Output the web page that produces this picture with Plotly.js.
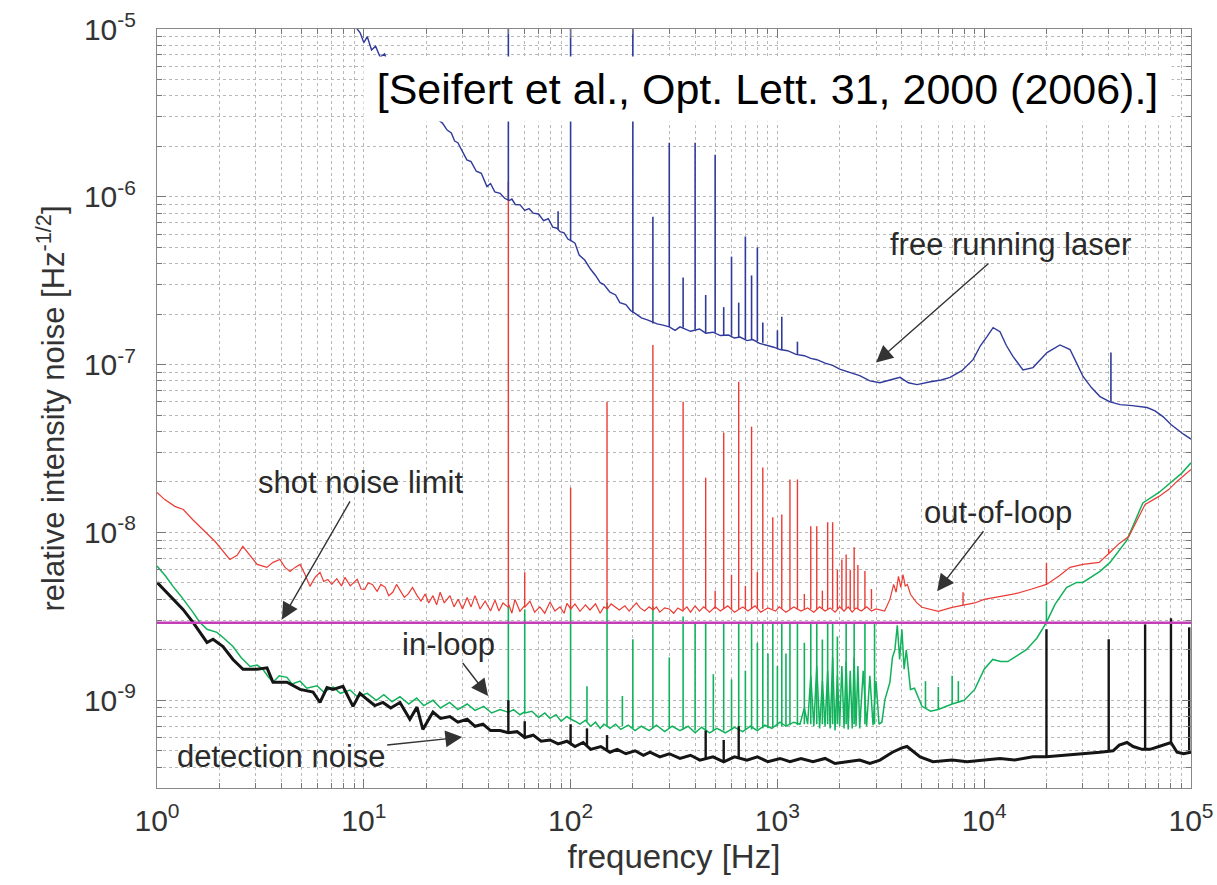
<!DOCTYPE html>
<html>
<head>
<meta charset="utf-8">
<script src="https://cdn.plot.ly/plotly-3.0.1.min.js"></script>
<style>html,body{margin:0;padding:0;background:#fff}#chart{width:1217px;height:885px}</style>
</head>
<body>
<div id="chart"></div>
<script>
// ---- data: [frequency Hz, relative intensity noise 1/sqrt(Hz)] ----
const freeRunning = [
[8.5,1.15e-5],[9.3,9.9e-6],[9.6,9.5e-6],[10.0,8.3e-6],[10.4,9.0e-6],[10.9,7.5e-6],[11.4,7.9e-6],[12.0,6.8e-6],[12.6,7.1e-6],[13.3,5.9e-6],[14.2,5.7e-6],[16.0,4.7e-6],[18.7,3.78e-6],[22.0,3.0e-6],[24.0,2.75e-6],[25.3,2.5e-6],[26.5,2.4e-6],[27.5,2.15e-6],[28.5,2.1e-6],[30.0,1.85e-6],[31.5,1.66e-6],[33.0,1.62e-6],[35.0,1.42e-6],[37.0,1.38e-6],[39.4,1.15e-6],[41.0,1.2e-6],[43.0,1.07e-6],[45.6,1.05e-6],[48.0,9.8e-7],[49.7,9.6e-7],[50.5,9.5e-7],[52.0,9.7e-7],[54.0,9.0e-7],[57.0,8.95e-7],[60.0,8.3e-7],[63.0,8.5e-7],[65.8,8.0e-7],[70.0,7.9e-7],[74.0,7.2e-7],[78.0,7.4e-7],[82.0,6.6e-7],[86.0,6.5e-7],[89.0,6.2e-7],[93.0,6.1e-7],[97.0,5.6e-7],[99.7,5.5e-7],[100.3,5.5e-7],[105,5.3e-7],[110,4.5e-7],[117,4.2e-7],[125,3.7e-7],[132,3.4e-7],[139,3.08e-7],[145,3.0e-7],[155,2.7e-7],[165,2.6e-7],[173,2.34e-7],[185,2.28e-7],[195,2.1e-7],[205,2.02e-7],[220,1.9e-7],[235,1.85e-7],[262,1.75e-7],[280,1.72e-7],[300,1.68e-7],[320,1.6e-7],[338,1.68e-7],[380,1.58e-7],[420,1.63e-7],[450,1.54e-7],[488,1.56e-7],[530,1.49e-7],[580,1.5e-7],[620,1.44e-7],[660,1.46e-7],[713,1.39e-7],[760,1.41e-7],[820,1.34e-7],[900,1.3e-7],[960,1.27e-7],[1030,1.23e-7],[1120,1.21e-7],[1230,1.15e-7],[1350,1.13e-7],[1450,1.09e-7],[1553,1.07e-7],[1700,1.02e-7],[1850,9.9e-8],[2000,9.4e-8],[2243,8.96e-8],[2500,8.6e-8],[2800,8.0e-8],[3133,7.8e-8],[3500,8.1e-8],[3916,8.4e-8],[4300,7.8e-8],[4733,7.6e-8],[5500,7.9e-8],[6200,8.1e-8],[6838,8.4e-8],[7800,9.2e-8],[8835,1.07e-7],[9600,1.3e-7],[10320,1.47e-7],[11040,1.66e-7],[11920,1.57e-7],[12800,1.3e-7],[13770,1.12e-7],[15400,9.3e-8],[17220,9.6e-8],[18500,1.05e-7],[20130,1.18e-7],[23250,1.31e-7],[26000,1.23e-7],[28000,1.02e-7],[30050,8.5e-8],[33000,7.3e-8],[36300,6.45e-8],[40600,6.0e-8],[45400,5.78e-8],[52000,5.7e-8],[61300,5.55e-8],[67000,5.3e-8],[73200,4.9e-8],[80000,4.4e-8],[85600,4.1e-8],[92000,3.85e-8],[100000,3.6e-8]
];
// spikes: [frequency, foot, peak]
const freeRunningSpikes = [[50,9.6e-7,1.3e-5],[87,6.4e-7,8.2e-7],[100,5.5e-7,1.3e-5],[200,2.04e-7,1.3e-5],[250,1.76e-7,7.6e-7],[300,1.68e-7,2.1e-6],[350,1.66e-7,3.3e-7],[400,1.62e-7,2.1e-6],[450,1.55e-7,2.6e-7],[500,1.55e-7,1.78e-6],[550,1.5e-7,2.2e-7],[600,1.49e-7,4.4e-7],[650,1.46e-7,2.34e-7],[700,1.42e-7,5.8e-7],[750,1.41e-7,3.4e-7],[800,1.38e-7,5.0e-7],[850,1.35e-7,1.78e-7],[1000,1.25e-7,1.6e-7],[1050,1.22e-7,1.93e-7],[1250,1.15e-7,1.37e-7],[41000,6.0e-8,1.18e-7]];

const outOfLoop = [
[1,1.73e-8],[1.09,1.57e-8],[1.22,1.43e-8],[1.34,1.37e-8],[1.49,1.19e-8],[1.67,1.04e-8],[1.91,8.83e-9],[2.25,6.9e-9],[2.44,7.3e-9],[2.6,8.26e-9],[2.82,7.3e-9],[3.05,6.45e-9],[3.4,6.19e-9],[3.64,6.63e-9],[3.93,6.9e-9],[4.16,6.19e-9],[4.4,5.86e-9],[4.65,6.19e-9],[4.92,6.45e-9],[5.2,5.62e-9],[5.49,4.77e-9],[5.81,5.4e-9],[6.14,5.78e-9],[6.4,5.1e-9],[6.7,5.25e-9],[7.0,4.9e-9],[7.4,5.3e-9],[7.8,4.8e-9],[8.1,5.4e-9],[8.6,4.8e-9],[9.3,5.25e-9],[9.7,4.6e-9],[10.1,4.58e-9],[10.5,5.0e-9],[11.0,4.9e-9],[11.6,4.46e-9],[12.1,4.9e-9],[12.7,4.71e-9],[13.2,4.2e-9],[13.8,4.4e-9],[14.4,4.9e-9],[15.0,4.5e-9],[15.7,4.1e-9],[16.4,4.3e-9],[17.2,4.7e-9],[18.1,4.2e-9],[18.9,3.9e-9],[19.8,4.3e-9],[20.6,3.8e-9],[21.6,4.2e-9],[22.5,3.7e-9],[23.4,4.4e-9],[24.5,3.8e-9],[26.1,4.2e-9],[27.3,3.6e-9],[28.6,4.0e-9],[30.0,3.5e-9],[31.6,4.1e-9],[33.0,3.6e-9],[34.5,4.2e-9],[36.5,3.5e-9],[38.6,3.9e-9],[41.0,3.4e-9],[43.1,3.95e-9],[45.0,3.4e-9],[47.1,3.8e-9],[49.7,3.6e-9],[50.3,3.7e-9],[52.0,3.3e-9],[53.8,3.99e-9],[56.9,3.39e-9],[59.8,3.65e-9],[60.2,3.6e-9],[63.6,3.9e-9],[67,3.35e-9],[71,3.6e-9],[75,3.3e-9],[79.5,3.85e-9],[84,3.4e-9],[88.9,3.6e-9],[93,3.3e-9],[96,3.78e-9],[99.7,3.5e-9],[100.3,3.5e-9],[105,3.75e-9],[111,3.39e-9],[118,3.7e-9],[124,3.45e-9],[132,3.75e-9],[139,3.3e-9],[145,3.6e-9],[149.5,3.5e-9],[150.5,3.5e-9],[157,3.75e-9],[164,3.6e-9],[172,3.45e-9],[183,3.65e-9],[192,3.4e-9],[200,3.6e-9],[208,3.8e-9],[217,3.55e-9],[228,3.4e-9],[240,3.6e-9],[249,3.45e-9],[251,3.45e-9],[260,3.6e-9],[270,3.35e-9],[285,3.55e-9],[300,3.5e-9],[315,3.3e-9],[330,3.55e-9],[349,3.4e-9],[351,3.45e-9],[365,3.6e-9],[380,3.35e-9],[400,3.65e-9],[420,3.4e-9],[440,3.6e-9],[470,3.35e-9],[500,3.6e-9],[530,3.4e-9],[575,3.65e-9],[620,3.35e-9],[680,3.6e-9],[720,3.4e-9],[780,3.65e-9],[830,3.35e-9],[900,3.55e-9],[980,3.4e-9],[1020,3.6e-9],[1100,3.35e-9],[1200,3.6e-9],[1300,3.4e-9],[1400,3.55e-9],[1500,3.35e-9],[1600,3.6e-9],[1700,3.4e-9],[1800,3.55e-9],[1900,3.35e-9],[2000,3.6e-9],[2100,3.4e-9],[2200,3.6e-9],[2300,3.35e-9],[2400,3.55e-9],[2550,3.4e-9],[2700,3.6e-9],[2850,3.4e-9],[3000,3.5e-9],[3300,3.4e-9],[3500,3.99e-9],[3650,4.9e-9],[3750,4.4e-9],[3850,5.47e-9],[3950,4.7e-9],[4050,5.6e-9],[4150,4.8e-9],[4250,4.9e-9],[4400,4.28e-9],[4700,3.83e-9],[5000,3.58e-9],[5500,3.48e-9],[6000,3.39e-9],[7000,3.58e-9],[8000,3.7e-9],[9000,3.8e-9],[10000,3.99e-9],[12000,4.16e-9],[14000,4.3e-9],[17000,4.6e-9],[20000,4.9e-9],[23000,5.5e-9],[26000,6.19e-9],[30000,6.45e-9],[36000,6.63e-9],[41000,7.7e-9],[45000,8.6e-9],[50000,9.46e-9],[55000,1.2e-8],[60000,1.47e-8],[70000,1.64e-8],[78000,1.8e-8],[85000,2.0e-8],[100000,2.37e-8]
];
const outOfLoopSpikes = [[50,3.7e-9,1.23e-6],[60,3.6e-9,5.8e-9],[100,3.5e-9,1.85e-8],[150,3.5e-9,6.0e-8],[250,3.45e-9,1.31e-7],[350,3.45e-9,6.0e-8],[450,3.5e-9,2.12e-8],[500,3.5e-9,4.5e-9],[550,3.5e-9,3.94e-8],[600,3.5e-9,5.6e-9],[650,3.5e-9,7.9e-8],[700,3.5e-9,4.8e-9],[750,3.5e-9,4.27e-8],[800,3.5e-9,5.8e-9],[850,3.5e-9,2.44e-8],[950,3.5e-9,1.23e-8],[1050,3.5e-9,1.28e-8],[1150,3.5e-9,2.07e-8],[1250,3.5e-9,2.07e-8],[1350,3.5e-9,4.3e-9],[1450,3.5e-9,1.09e-8],[1550,3.5e-9,1.09e-8],[1650,3.5e-9,4.5e-9],[1750,3.5e-9,1.15e-8],[1850,3.5e-9,1.15e-8],[1950,3.5e-9,6.0e-9],[2050,3.5e-9,6.9e-9],[2150,3.5e-9,7.4e-9],[2250,3.5e-9,6.0e-9],[2350,3.5e-9,8.15e-9],[2450,3.5e-9,6.4e-9],[2650,3.5e-9,5.9e-9],[2850,3.5e-9,4.6e-9],[7900,3.7e-9,4.4e-9],[20000,4.9e-9,6.6e-9],[40000,7.5e-9,8.0e-9]];

const inLoop = [
[1,6.3e-9],[1.1,5.5e-9],[1.195,4.77e-9],[1.3,4.2e-9],[1.494,3.34e-9],[1.6,2.95e-9],[1.745,2.65e-9],[1.85,2.6e-9],[1.95,2.54e-9],[2.1,2.35e-9],[2.33,2.09e-9],[2.55,1.8e-9],[2.82,1.59e-9],[3.05,1.62e-9],[3.25,1.53e-9],[3.45,1.38e-9],[3.64,1.28e-9],[3.9,1.4e-9],[4.25,1.37e-9],[4.5,1.25e-9],[4.92,1.3e-9],[5.3,1.18e-9],[5.94,1.22e-9],[6.4,1.12e-9],[7.1,1.2e-9],[7.7,1.1e-9],[8.58,1.15e-9],[9.3,1.05e-9],[10.4,1.1e-9],[11.5,1.0e-9],[12.5,1.08e-9],[13.7,0.98e-9],[14.96,1.05e-9],[16.5,0.95e-9],[18,1.03e-9],[19.5,0.93e-9],[21.6,1.0e-9],[23.5,0.9e-9],[26,0.97e-9],[28.5,0.88e-9],[31.6,0.95e-9],[34.5,0.87e-9],[38,0.92e-9],[41.5,0.84e-9],[45.6,0.88e-9],[49.7,0.85e-9],[50.3,0.85e-9],[53,0.88e-9],[56.9,0.82e-9],[59.8,0.85e-9],[60.2,0.84e-9],[65,0.86e-9],[70,0.79e-9],[75,0.84e-9],[79.5,0.78e-9],[85,0.82e-9],[90,0.75e-9],[96,0.8e-9],[99.7,0.77e-9],[100.3,0.77e-9],[105,0.75e-9],[111,0.72e-9],[118,0.76e-9],[125,0.7e-9],[132,0.74e-9],[139,0.68e-9],[145,0.72e-9],[155,0.68e-9],[165,0.72e-9],[175,0.67e-9],[190,0.71e-9],[205,0.66e-9],[220,0.7e-9],[240,0.66e-9],[260,0.71e-9],[285,0.65e-9],[310,0.7e-9],[338,0.66e-9],[370,0.7e-9],[400,0.64e-9],[430,0.69e-9],[470,0.64e-9],[510,0.68e-9],[560,0.64e-9],[620,0.69e-9],[680,0.65e-9],[740,0.7e-9],[800,0.66e-9],[870,0.71e-9],[940,0.68e-9],[1030,0.74e-9],[1100,0.7e-9],[1200,0.74e-9],[1286,0.72e-9],[1350,0.9e-9],[1400,0.72e-9],[1450,1.4e-9],[1500,0.7e-9],[1550,1.6e-9],[1600,0.68e-9],[1650,1.3e-9],[1700,0.7e-9],[1750,1.5e-9],[1800,0.68e-9],[1850,1.8e-9],[1900,0.66e-9],[1950,1.4e-9],[2000,0.7e-9],[2050,1.6e-9],[2100,0.68e-9],[2150,1.7e-9],[2200,0.67e-9],[2250,1.5e-9],[2300,0.68e-9],[2350,1.8e-9],[2400,0.7e-9],[2450,1.6e-9],[2500,0.68e-9],[2600,1.5e-9],[2700,0.7e-9],[2800,1.4e-9],[2900,0.71e-9],[3000,1.3e-9],[3100,0.72e-9],[3200,0.74e-9],[3311,1.01e-9],[3500,1.28e-9],[3600,1.8e-9],[3700,2.0e-9],[3800,2.8e-9],[3900,1.75e-9],[4000,2.65e-9],[4100,1.53e-9],[4200,2.0e-9],[4400,1.16e-9],[4600,1.18e-9],[5000,0.92e-9],[5500,0.86e-9],[6000,0.88e-9],[7000,0.95e-9],[8000,1.0e-9],[9000,1.16e-9],[10000,1.53e-9],[11000,1.75e-9],[12000,1.7e-9],[13000,1.7e-9],[14000,1.8e-9],[16000,2.0e-9],[18000,2.35e-9],[20000,2.91e-9],[22000,3.73e-9],[25000,4.7e-9],[28000,5.04e-9],[30000,5.04e-9],[36300,5.86e-9],[40600,6.63e-9],[49000,9.0e-9],[58500,1.5e-8],[70000,1.73e-8],[80000,2.0e-8],[90000,2.25e-8],[100000,2.6e-8]
];
const inLoopSpikes = [[50,0.85e-9,3.63e-9],[60,0.84e-9,3.48e-9],[100,0.77e-9,3.63e-9],[120,0.75e-9,1.21e-9],[150,0.7e-9,3.83e-9],[178,0.7e-9,1.06e-9],[200,0.68e-9,2.31e-9],[250,0.68e-9,3.63e-9],[300,0.68e-9,1.8e-9],[350,0.67e-9,3.16e-9],[400,0.66e-9,2.91e-9],[450,0.66e-9,2.91e-9],[490,0.66e-9,1.43e-9],[550,0.66e-9,2.91e-9],[600,0.66e-9,1.33e-9],[650,0.66e-9,2.91e-9],[700,0.67e-9,1.5e-9],[750,0.67e-9,2.91e-9],[800,0.67e-9,2.2e-9],[850,0.68e-9,2.91e-9],[900,0.68e-9,1.9e-9],[950,0.69e-9,2.91e-9],[1000,0.7e-9,1.6e-9],[1050,0.7e-9,2.91e-9],[1100,0.7e-9,1.9e-9],[1150,0.71e-9,2.91e-9],[1250,0.71e-9,2.91e-9],[1350,0.72e-9,2.2e-9],[1450,0.72e-9,2.91e-9],[1550,0.72e-9,2.91e-9],[1650,0.72e-9,2.3e-9],[1750,0.72e-9,2.91e-9],[1850,0.72e-9,2.91e-9],[1950,0.72e-9,2.4e-9],[2150,0.72e-9,2.91e-9],[2350,0.72e-9,2.91e-9],[2650,0.72e-9,2.91e-9],[2950,0.72e-9,2.91e-9],[5200,0.9e-9,1.3e-9],[6000,0.88e-9,1.2e-9],[7000,0.95e-9,1.4e-9],[7500,0.97e-9,1.3e-9],[20000,2.91e-9,3.9e-9]];

const detectionNoise = [
[1,5.04e-9],[1.156,4.16e-9],[1.336,3.48e-9],[1.494,2.91e-9],[1.614,2.54e-9],[1.745,2.21e-9],[1.866,2.31e-9],[2.085,2.09e-9],[2.33,1.75e-9],[2.606,1.53e-9],[3.045,1.53e-9],[3.404,1.56e-9],[3.638,1.28e-9],[4.25,1.28e-9],[4.92,1.16e-9],[5.68,1.12e-9],[6.14,0.97e-9],[6.64,1.19e-9],[7.1,1.16e-9],[7.93,1.21e-9],[8.87,0.92e-9],[9.58,1.1e-9],[10.4,1.01e-9],[11.3,0.93e-9],[12.38,0.97e-9],[13.5,0.9e-9],[14.96,0.97e-9],[16.7,0.77e-9],[18.08,0.91e-9],[19.3,0.67e-9],[21.6,0.85e-9],[23.5,0.78e-9],[26.1,0.8e-9],[28.5,0.74e-9],[31.6,0.77e-9],[34.5,0.7e-9],[37.7,0.72e-9],[41,0.66e-9],[45.6,0.66e-9],[50,0.64e-9],[55.1,0.65e-9],[60,0.6e-9],[66,0.62e-9],[72,0.57e-9],[79.5,0.58e-9],[87,0.55e-9],[96,0.57e-9],[105,0.53e-9],[115,0.56e-9],[125,0.51e-9],[140,0.53e-9],[155,0.49e-9],[168,0.51e-9],[185,0.48e-9],[205,0.5e-9],[225,0.47e-9],[242,0.49e-9],[270,0.46e-9],[300,0.48e-9],[338,0.45e-9],[380,0.47e-9],[422,0.44e-9],[488,0.46e-9],[550,0.43e-9],[620,0.46e-9],[713,0.44e-9],[800,0.46e-9],[900,0.43e-9],[1030,0.45e-9],[1150,0.43e-9],[1300,0.45e-9],[1486,0.43e-9],[1700,0.45e-9],[1900,0.42e-9],[2172,0.43e-9],[2500,0.44e-9],[2800,0.42e-9],[3133,0.44e-9],[3600,0.49e-9],[4000,0.52e-9],[4235,0.53e-9],[4500,0.5e-9],[4898,0.46e-9],[5650,0.43e-9],[7000,0.44e-9],[8260,0.43e-9],[10000,0.44e-9],[11920,0.45e-9],[14000,0.44e-9],[17220,0.46e-9],[20000,0.46e-9],[25140,0.47e-9],[30000,0.48e-9],[36300,0.49e-9],[42000,0.5e-9],[45000,0.54e-9],[49050,0.56e-9],[52500,0.53e-9],[58000,0.51e-9],[63400,0.51e-9],[70000,0.53e-9],[76600,0.55e-9],[80000,0.56e-9],[85600,0.49e-9],[92000,0.48e-9],[100000,0.49e-9]
];
const detectionNoiseSpikes = [[20000,0.46e-9,2.65e-9],[40000,0.5e-9,2.31e-9],[60000,0.51e-9,2.83e-9],[80000,0.56e-9,3.08e-9],[98000,0.49e-9,2.72e-9],[50,0.64e-9,1.0e-9],[60,0.6e-9,0.75e-9],[100,0.55e-9,0.72e-9],[120,0.54e-9,0.68e-9],[150,0.5e-9,0.62e-9],[450,0.45e-9,0.66e-9],[550,0.43e-9,0.58e-9],[650,0.45e-9,0.7e-9]];

const shotNoiseFreq = [1, 100000];
const shotNoiseLevel = [2.9e-9, 2.9e-9];

const xTickVals = [1, 10, 100, 1000, 10000, 100000];
const xTickText = ['10<sup>0</sup>','10<sup>1</sup>','10<sup>2</sup>','10<sup>3</sup>','10<sup>4</sup>','10<sup>5</sup>'];
const yTickVals = [1e-9, 1e-8, 1e-7, 1e-6, 1e-5];
const yTickText = ['10<sup>-9</sup>','10<sup>-8</sup>','10<sup>-7</sup>','10<sup>-6</sup>','10<sup>-5</sup>'];

// curve labels: [text, arrow tip frequency, arrow tip value, text offset x px, text offset y px]
const curveLabels = [
  ['free running laser', 3000, 1.03e-7, 134, -118],
  ['shot noise limit', 4.02, 3.03e-9, 79, -137],
  ['out-of-loop', 5920, 4.46e-9, 61, -79],
  ['in-loop', 39.9, 1.06e-9, -40, -52],
  ['detection noise', 29.9, 6.03e-10, -181, 19]
];

// ---- helpers ----
function curve(data, color, width) {
  return {type:'scatter', mode:'lines', x:data.map(p=>p[0]), y:data.map(p=>p[1]),
    line:{color:color, width:width}, hoverinfo:'skip', showlegend:false};
}
function spikes(data, color, width) {
  const x=[], y=[];
  data.forEach(s=>{ x.push(s[0], s[0], null); y.push(s[1], s[2], null); });
  return {type:'scatter', mode:'lines', x:x, y:y, connectgaps:false,
    line:{color:color, width:width}, hoverinfo:'skip', showlegend:false};
}

const BLUE='#2f3a9a', RED='#ec3b34', GREEN='#12b25c', BLACK='#151515', MAG='#c23db6';

const traces = [
  curve(inLoop, GREEN, 1.5), spikes(inLoopSpikes, GREEN, 1.6),
  curve(detectionNoise, BLACK, 3), spikes(detectionNoiseSpikes, BLACK, 2.4),
  {type:'scatter', mode:'lines', x:shotNoiseFreq, y:shotNoiseLevel, line:{color:MAG, width:2.5}, hoverinfo:'skip', showlegend:false},
  curve(outOfLoop, RED, 1.2), spikes(outOfLoopSpikes, RED, 1.4),
  curve(freeRunning, BLUE, 1.4), spikes(freeRunningSpikes, BLUE, 1.6)
];

const FONT = 'Liberation Sans, Arial, Helvetica, sans-serif';
const gridCol = '#b8b8b8';

const labelAnnotations = curveLabels.map(c => ({
  x: Math.log10(c[1]), y: Math.log10(c[2]), xref:'x', yref:'y',
  text: c[0], showarrow:true, ax:c[3], ay:c[4],
  arrowhead:2, arrowsize:2.4, arrowwidth:1.4, arrowcolor:'#333',
  font:{family:FONT, size:31, color:'#2a2a2a'}
}));

const layout = {
  width:1217, height:885,
  margin:{l:157, r:26, t:29, b:97},
  paper_bgcolor:'#fff', plot_bgcolor:'#fff',
  font:{family:FONT, color:'#333'},
  xaxis:{
    type:'log', range:[0,5], tickmode:'array', tickvals:xTickVals, ticktext:xTickText,
    ticks:'inside', ticklen:9, tickcolor:'#777', tickwidth:1,
    showline:true, linecolor:'#888', linewidth:1, mirror:'ticks',
    showgrid:true, gridcolor:gridCol, griddash:'dot', gridwidth:1,
    tickfont:{family:FONT, size:30, color:'#333'}, ticklabelstandoff:6,
    minor:{dtick:'D1', ticks:'inside', ticklen:5, tickcolor:'#777', showgrid:true, gridcolor:gridCol, griddash:'dot', gridwidth:1},
    zeroline:false,
    title:{text:'frequency [Hz]', font:{family:FONT, size:33, color:'#333'}, standoff:8}
  },
  yaxis:{
    type:'log', range:[Math.log10(3e-10), -5], tickmode:'array', tickvals:yTickVals, ticktext:yTickText,
    ticks:'inside', ticklen:9, tickcolor:'#777', tickwidth:1,
    showline:true, linecolor:'#888', linewidth:1, mirror:'ticks',
    showgrid:true, gridcolor:gridCol, griddash:'dot', gridwidth:1,
    tickfont:{family:FONT, size:30, color:'#333'}, ticklabelstandoff:14,
    minor:{dtick:'D1', ticks:'inside', ticklen:5, tickcolor:'#777', showgrid:true, gridcolor:gridCol, griddash:'dot', gridwidth:1},
    zeroline:false,
    title:{text:'relative intensity noise [Hz<sup>-1/2</sup>]', font:{family:FONT, size:31, color:'#333'}, standoff:10}
  },
  annotations:[
    {x:0.5904, y:0.921, xref:'paper', yref:'paper', text:'[Seifert et al., Opt. Lett. 31, 2000 (2006).]',
     showarrow:false, bgcolor:'#ffffff', width:805, height:62, xanchor:'center', yanchor:'middle',
     font:{family:FONT, size:43, color:'#000'}}
  ].concat(labelAnnotations)
};

Plotly.newPlot('chart', traces, layout, {staticPlot:true, displayModeBar:false});
</script>
</body>
</html>
